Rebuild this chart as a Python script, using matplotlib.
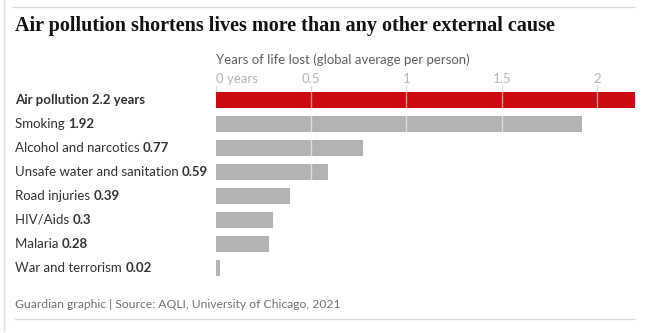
#!/usr/bin/env python3
"""
Years of life lost by external cause (Guardian style bar chart)
"""
import matplotlib
matplotlib.use('Agg')
import matplotlib.pyplot as plt
from matplotlib.lines import Line2D

causes = ['Air pollution', 'Smoking', 'Alcohol and narcotics',
          'Unsafe water and sanitation', 'Road injuries', 'HIV/Aids',
          'Malaria', 'War and terrorism']
years = [2.2, 1.92, 0.77, 0.59, 0.39, 0.3, 0.28, 0.02]
value_labels = ['2.2 years', '1.92', '0.77', '0.59', '0.39', '0.3', '0.28', '0.02']
ticks = [0, 0.5, 1, 1.5, 2]
tick_labels = ['0 years', '0.5', '1', '1.5', '2']

RED = '#cc0a11'
GREY = '#b3b3b3'
TEXT = '#333333'
SANS = 'Lato'

W, H = 647, 333


def px(x, y):
    """pixel coords (from top-left) to figure fraction"""
    return x / W, 1 - y / H


def main():
    fig = plt.figure(figsize=(W / 100, H / 100), dpi=100)
    ax = fig.add_axes([216 / W, 1 - 280 / H, 419 / W, 188 / H])

    rows = list(range(len(causes)))
    colors = [RED] + [GREY] * (len(causes) - 1)
    ax.barh(rows, years, height=16 / 24, color=colors, zorder=2)
    ax.set_xlim(0, 2.2)
    ax.set_ylim(7.5, -1 / 3)

    for t in ticks[1:]:
        ax.axvline(t, color='white', alpha=0.55, lw=1, zorder=3)

    for s in ax.spines.values():
        s.set_visible(False)
    ax.set_yticks([])
    ax.xaxis.tick_top()
    ax.set_xticks(ticks)
    ax.set_xticklabels(tick_labels)
    ax.tick_params(axis='x', length=5, width=1, color='#dcdcdc',
                   labelcolor='#b5b5b5', labelsize=9.5, pad=0)
    for lab in ax.get_xticklabels():
        lab.set_fontfamily(SANS)
    ax.get_xticklabels()[0].set_horizontalalignment('left')

    # category labels: name regular, value bold
    for i, (name, val) in enumerate(zip(causes, value_labels)):
        yy = 100 + 24 * i
        if i == 0:
            fig.text(*px(15, yy), name + ' ' + val, fontsize=9.5,
                     family=SANS, fontweight='bold', color=TEXT, va='center')
        else:
            t = fig.text(*px(15, yy), name + ' ', fontsize=9.5,
                         family=SANS, color=TEXT, va='center')
            ax.annotate(val, xy=(1, 0.5), xycoords=t, va='center',
                        fontsize=9.5, family=SANS, fontweight='bold',
                        color=TEXT, annotation_clip=False)

    fig.text(*px(15, 26), 'Air pollution shortens lives more than any other external cause',
             fontsize=14.5, family='Liberation Serif', fontweight='bold',
             color='#121212', va='center')
    fig.text(*px(216, 60), 'Years of life lost (global average per person)',
             fontsize=9.5, family=SANS, color='#606060', va='center')
    fig.text(*px(15, 305), 'Guardian graphic | Source: AQLI, University of Chicago, 2021',
             fontsize=8.7, family=SANS, color='#707070', va='center')

    # frame lines
    fig.add_artist(Line2D([12 / W, 635 / W], [1 - 7 / H] * 2, color='#dcdcdc', lw=1))
    fig.add_artist(Line2D([15 / W, 635 / W], [1 - 319 / H] * 2, color='#dcdcdc', lw=1))
    fig.add_artist(Line2D([3.5 / W] * 2, [1, 1 - 330 / H], color='#dcdcdc', lw=1))

    fig.savefig('out.png', dpi=100)


if __name__ == "__main__":
    main()
